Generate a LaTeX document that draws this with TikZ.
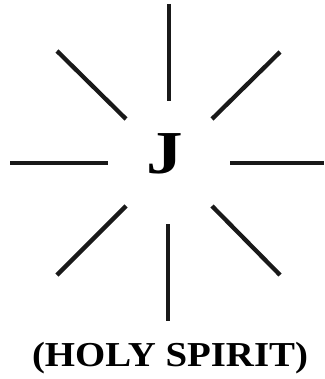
\documentclass[tikz,border=0pt]{standalone}
\usepackage{fontspec}
\setmainfont{Liberation Serif}
\begin{document}
\begin{tikzpicture}[x=1pt,y=-1pt,
  ray/.style={line width=4.3pt, draw=black!90},
  bigletter/.style={inner sep=0pt, anchor=base, font=\fontsize{61}{61}\selectfont\bfseries},
  caption/.style={inner sep=0pt, anchor=base, font=\fontsize{35}{35}\selectfont\bfseries}]
\useasboundingbox (0,0) rectangle (324,379);
% rays
\coordinate (t1) at (169,4);   \coordinate (t2) at (169,101);
\coordinate (b1) at (168,224); \coordinate (b2) at (168,321);
\coordinate (l1) at (10,163);  \coordinate (l2) at (108,163);
\coordinate (r1) at (230,163); \coordinate (r2) at (324,163);
\coordinate (ul1) at (57,51);  \coordinate (ul2) at (126,119);
\coordinate (ur1) at (280,52); \coordinate (ur2) at (212,119);
\coordinate (ll1) at (57,275); \coordinate (ll2) at (126,206);
\coordinate (lr1) at (280,275);\coordinate (lr2) at (212,206);
\foreach \a/\b in {t1/t2,b1/b2,l1/l2,r1/r2,ul1/ul2,ur1/ur2,ll1/ll2,lr1/lr2}
  \draw[ray] (\a) -- (\b);
\node[bigletter] (J) at (165,173) {\scalebox{1.2}[1]{J}};
\node[caption] (hs) at (170,366) {\scalebox{1.11}[1]{(HOLY SPIRIT)}};
\end{tikzpicture}
\end{document}
